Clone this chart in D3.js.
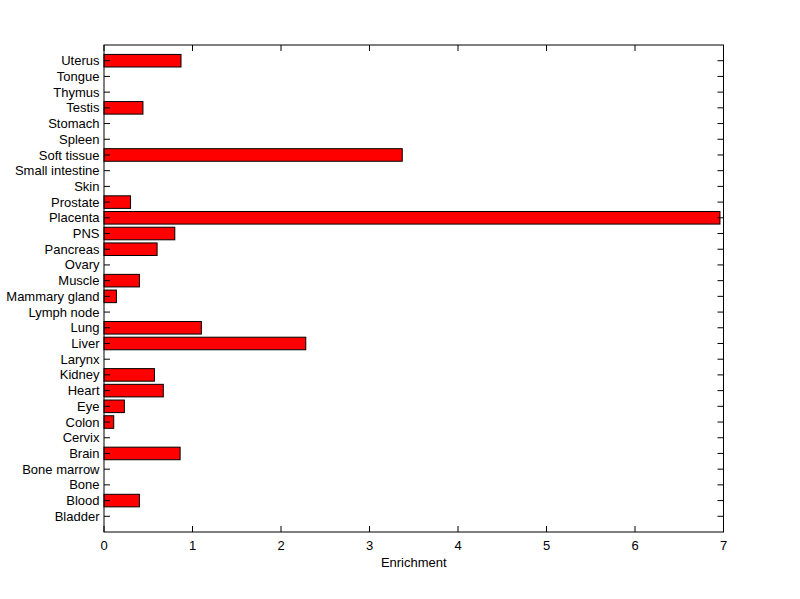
<!DOCTYPE html>
<html><head><meta charset="utf-8">
<script src="https://cdn.jsdelivr.net/npm/d3@7"></script>
<style>
body{margin:0;background:#fff;}
text{font-family:"Liberation Sans",Arial,sans-serif;font-size:13px;fill:#000;}
</style></head>
<body>
<svg id="chart" width="800" height="599"></svg>
<script>
const categories = ["Bladder","Blood","Bone","Bone marrow","Brain","Cervix","Colon","Eye","Heart","Kidney","Larynx","Liver","Lung","Lymph node","Mammary gland","Muscle","Ovary","Pancreas","PNS","Placenta","Prostate","Skin","Small intestine","Soft tissue","Spleen","Stomach","Testis","Thymus","Tongue","Uterus"];
const enrichment = [0,0.40,0,0,0.86,0,0.11,0.23,0.67,0.57,0,2.28,1.10,0,0.14,0.40,0,0.60,0.80,6.96,0.30,0,0,3.37,0,0,0.44,0,0,0.87];
const xTicks = [0,1,2,3,4,5,6,7];
const xLabel = "Enrichment";

const svg = d3.select("#chart");
const L=104, R=723.5, T=45, B=532;
const x = d3.scaleLinear().domain([0,7]).range([L,R]);
const y = d3.scaleLinear().domain([0,categories.length+1]).range([B,T]);
const bh = 0.8*(y(0)-y(1));

svg.append("rect").attr("x",L).attr("y",T).attr("width",R-L).attr("height",B-T)
  .attr("fill","#fff");

// bars
svg.append("g").selectAll("rect").data(categories.map((c,i)=>({c,v:enrichment[i],i:i+1})).filter(d=>d.v>0))
  .join("rect")
  .attr("x",x(0)).attr("y",d=>y(d.i)-bh/2)
  .attr("width",d=>x(d.v)-x(0)).attr("height",bh)
  .attr("fill","#ff0000").attr("stroke","#000").attr("stroke-width",1);

// frame
svg.append("rect").attr("x",L).attr("y",T).attr("width",R-L).attr("height",B-T)
  .attr("fill","none").attr("stroke","#000").attr("stroke-width",1);

// x axis ticks (inside) bottom & top
const xg = svg.append("g");
xTicks.forEach(t=>{
  xg.append("line").attr("x1",x(t)).attr("x2",x(t)).attr("y1",B).attr("y2",B-6).attr("stroke","#000");
  xg.append("line").attr("x1",x(t)).attr("x2",x(t)).attr("y1",T).attr("y2",T+6).attr("stroke","#000");
  xg.append("text").attr("x",x(t)).attr("y",550).attr("text-anchor","middle").text(t);
});
svg.append("text").attr("x",(L+R)/2).attr("y",567).attr("text-anchor","middle").text(xLabel);

// y ticks and labels
const yg = svg.append("g");
categories.forEach((c,i)=>{
  const yy=y(i+1);
  yg.append("line").attr("x1",L).attr("x2",L+6).attr("y1",yy).attr("y2",yy).attr("stroke","#000");
  yg.append("line").attr("x1",R).attr("x2",R-6).attr("y1",yy).attr("y2",yy).attr("stroke","#000");
  yg.append("text").attr("x",L-4.5).attr("y",yy).attr("dy","0.35em").attr("text-anchor","end").text(c);
});
</script>
</body></html>
